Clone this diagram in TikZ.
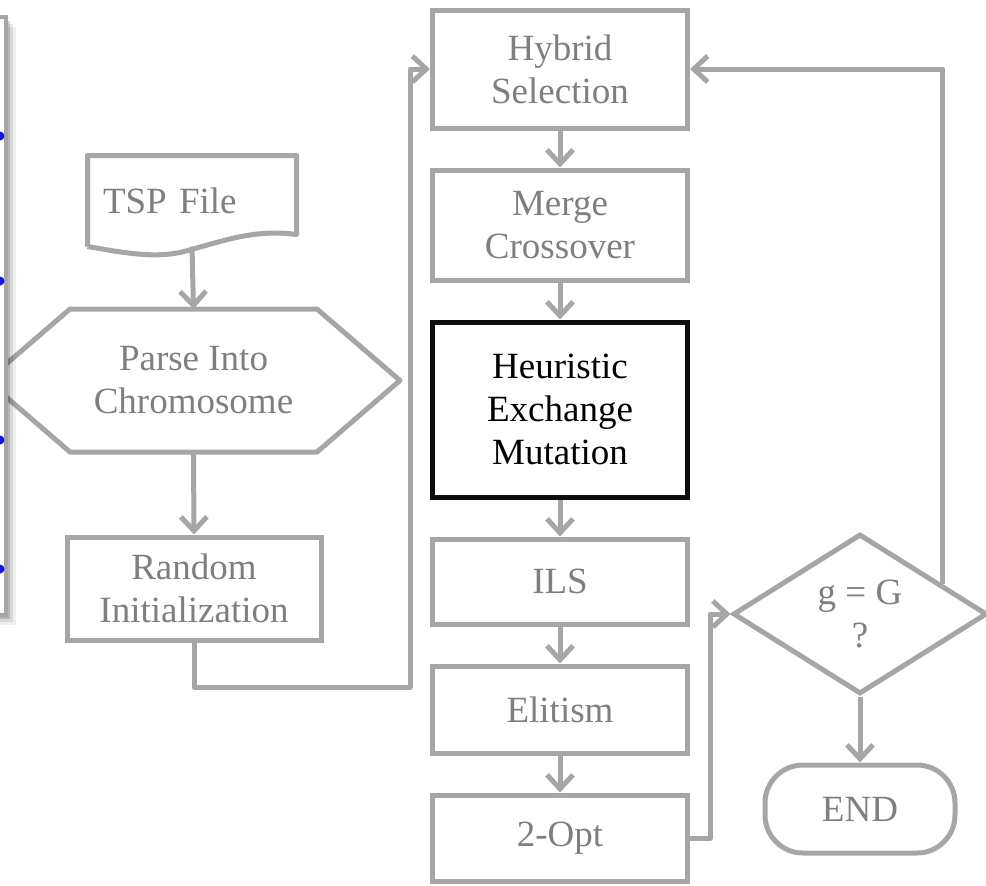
\documentclass[tikz,border=0pt]{standalone}
\usepackage{fontspec}
\setmainfont{Liberation Serif}
\usepackage{xcolor}
\usepackage{tikz}
\usetikzlibrary{arrows.meta, positioning, shapes.geometric, calc}
\definecolor{linegray}{HTML}{A6A6A6}
\definecolor{textgray}{HTML}{7F7F7F}
\definecolor{dotblue}{HTML}{1414E6}

\begin{document}
\begin{tikzpicture}[
  x=1pt, y=-1pt,
  node distance = 37pt,
  box/.style    = {rectangle, draw=linegray, line width=5pt, fill=white,
                   minimum width=255pt, align=center, text=textgray,
                   font=\fontsize{37}{43}\selectfont, inner sep=4pt},
  hot/.style    = {draw=black!95, text=black},
  ghost/.style  = {draw=none, fill=none, outer sep=0pt},
  outline/.style= {draw=linegray, line width=5pt, line join=round},
  arrow/.style  = {-{Straight Barb[length=14pt, width=26pt, line width=5pt]},
                   line width=5pt, color=linegray, line join=round},
]
\useasboundingbox (0,0) rectangle (986,886);

% Main column
\node[box, minimum height=118pt] (hyb) at (560,69) {Hybrid\\Selection};
\node[box, minimum height=110pt, below=of hyb] (mrg) {Merge\\Crossover};
\node[box, hot, minimum height=175pt, below=of mrg] (hem) {Heuristic\\Exchange\\Mutation};
\node[box, minimum height=85pt, below=of hem] (ils) {ILS};
\node[box, minimum height=87pt, below=of ils] (eli) {Elitism};
\node[box, minimum height=86pt, below=of eli] (opt) {2-Opt};

% Input column
\node[box, ghost, minimum width=209pt, minimum height=91pt,
      text width=178pt, align=left] (tsp) at (192,201) {TSP File};
\draw[outline] (tsp.south west) -- (tsp.north west) -- (tsp.north east)
  -- ([yshift=12pt]tsp.south east)
  .. controls +(-45,-6) and +(40,-10) .. ($(tsp.south)+(-12,6)$)
  .. controls +(-30,6) and +(30,5) .. (tsp.south west);

\node[box, ghost, minimum width=413pt, minimum height=143pt] (hex) at (193.5,380.5) {Parse Into\\Chromosome};
\draw[outline] (hex.west) -- ([xshift=83pt]hex.north west) -- ([xshift=-83pt]hex.north east)
  -- (hex.east) -- ([xshift=-83pt]hex.south east) -- ([xshift=83pt]hex.south west) -- cycle;

\node[box, minimum width=254pt, minimum height=103pt] (rnd) at (194,588.5) {Random\\Initialization};

% Decision and end
\node[box, diamond, shape aspect=1.6, inner sep=0pt, minimum width=254pt,
      minimum height=160pt] (dec) at (860,614) {g = G\\?};
\node[box, rounded corners=38pt, minimum width=190pt, minimum height=88pt] (fin) at (860,809) {END};

% Bends
\coordinate (jn1) at (410,687);
\coordinate (jn2) at (710,0);
\coordinate (jn3) at ($(dec.north)!0.64!(dec.east)$);

% Arrows
\draw[arrow] (tsp.south) -- (hex.north);
\draw[arrow] (hex.south) -- (rnd.north);
\draw[arrow] (rnd.south) |- (jn1) |- (hyb.west);
\draw[arrow] (hyb) -- (mrg);
\draw[arrow] (mrg) -- (hem);
\draw[arrow] (hem) -- (ils);
\draw[arrow] (ils) -- (eli);
\draw[arrow] (eli) -- (opt);
\draw[arrow] (opt.east) -| (jn2 |- dec.west) -- (dec.west);
\draw[arrow] (dec) -- (fin);
\draw[arrow] (jn3) |- (hyb.east);

% Cropped panel at the left edge
\foreach \d/\o in {10/0.06, 7/0.10, 4/0.16}
  \fill[black, opacity=\o] (-60,17+\d) rectangle (6+\d,615+\d);
\draw[linegray, line width=4pt, fill=white] (-60,17) rectangle (6,615);
\foreach \y in {136,281,440,569}
  \fill[dotblue] (0,\y) circle (4.5pt);
\end{tikzpicture}
\end{document}
